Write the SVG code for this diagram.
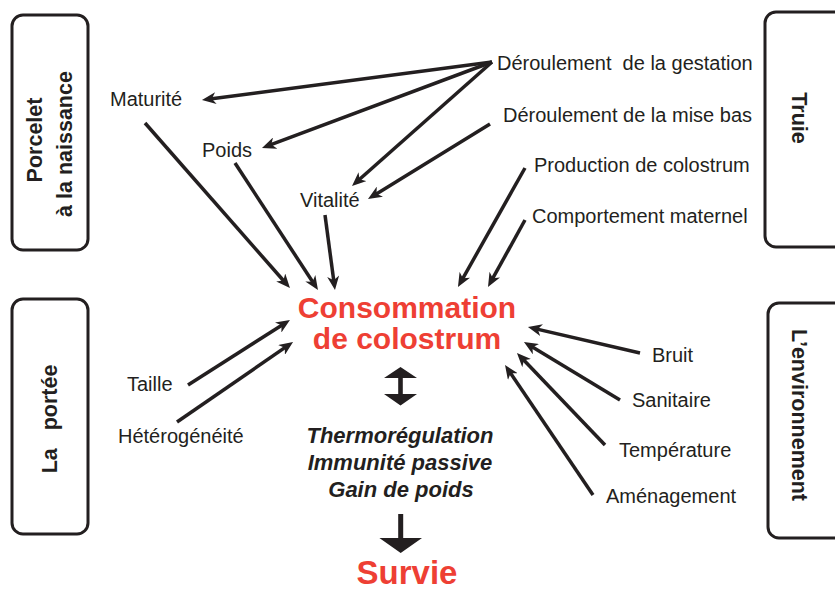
<svg xmlns="http://www.w3.org/2000/svg" width="835" height="592" viewBox="0 0 835 592">
<style>
.box{fill:none;stroke:#231f20;stroke-width:3}
.bt{font-family:"Liberation Sans",Arial,sans-serif;font-weight:bold;font-size:21.5px;fill:#231f20;text-anchor:middle;white-space:pre}
.lb{font-family:"Liberation Sans",Arial,sans-serif;font-size:20px;fill:#231f20;white-space:pre}
.red{font-family:"Liberation Sans",Arial,sans-serif;font-weight:bold;fill:#ee3f34;text-anchor:middle}
.it{font-family:"Liberation Sans",Arial,sans-serif;font-weight:bold;font-style:italic;font-size:22px;fill:#231f20;text-anchor:middle}
.c line{stroke:#231f20;stroke-width:3.5;marker-end:url(#ah)}
.blk{fill:#231f20}
</style>
<defs>
<marker id="ah" markerUnits="userSpaceOnUse" viewBox="0 0 14 12" refX="8" refY="6" markerWidth="14" markerHeight="12" orient="auto">
<path d="M0,0 L14,6 L0,12 L4,6 z" fill="#231f20"/>
</marker>
</defs>
<rect width="835" height="592" fill="#ffffff"/>

<g id="porcelet">
<rect class="box" x="12" y="15" width="76" height="235" rx="11"/>
<text class="bt" transform="translate(42,140) rotate(-90)">Porcelet</text>
<text class="bt" transform="translate(72,144) rotate(-90)">à la naissance</text>
</g>
<g id="portee">
<rect class="box" x="12" y="299" width="76" height="235" rx="11"/>
<text class="bt" transform="translate(57,419) rotate(-90)">La   portée</text>
</g>
<g id="truie">
<rect class="box" x="765" y="12" width="90" height="235" rx="11"/>
<text class="bt" transform="translate(792,118) rotate(90)">Truie</text>
</g>
<g id="environnement">
<rect class="box" x="768" y="303" width="90" height="235" rx="11"/>
<text class="bt" transform="translate(792,415) rotate(90)">L’environnement</text>
</g>

<g id="maturite"><text class="lb" x="110" y="106">Maturité</text></g>
<g id="poids"><text class="lb" x="202" y="157">Poids</text></g>
<g id="vitalite"><text class="lb" x="300" y="207">Vitalité</text></g>
<g id="gestation"><text class="lb" x="497" y="70">Déroulement  de la gestation</text></g>
<g id="misebas"><text class="lb" x="503" y="122">Déroulement de la mise bas</text></g>
<g id="production"><text class="lb" x="534" y="172">Production de colostrum</text></g>
<g id="comportement"><text class="lb" x="532" y="223">Comportement maternel</text></g>
<g id="taille"><text class="lb" x="127" y="391">Taille</text></g>
<g id="heterogeneite"><text class="lb" x="118" y="443">Hétérogénéité</text></g>
<g id="bruit"><text class="lb" x="652" y="362">Bruit</text></g>
<g id="sanitaire"><text class="lb" x="632" y="407">Sanitaire</text></g>
<g id="temperature"><text class="lb" x="619" y="457">Température</text></g>
<g id="amenagement"><text class="lb" x="606" y="503">Aménagement</text></g>

<g id="consommation">
<text class="red" font-size="30" x="407" y="318">Consommation</text>
<text class="red" font-size="30" x="407" y="349">de colostrum</text>
</g>
<g id="effets">
<text class="it" x="400" y="443">Thermorégulation</text>
<text class="it" x="400" y="470">Immunité passive</text>
<text class="it" x="401" y="497">Gain de poids</text>
</g>
<g id="survie">
<text class="red" font-size="33" x="407" y="584">Survie</text>
</g>

<g id="connectors" class="c">
<line x1="492" y1="62" x2="207.9" y2="99.2"/>
<line x1="492" y1="62" x2="267.6" y2="145.9"/>
<line x1="492" y1="62" x2="356.5" y2="182"/>
<line x1="490" y1="124" x2="373.1" y2="195.9"/>
<line x1="145" y1="123" x2="286" y2="283.5"/>
<line x1="235" y1="163" x2="314.7" y2="285"/>
<line x1="325" y1="215" x2="334.2" y2="284.1"/>
<line x1="525" y1="168" x2="460.9" y2="281.8"/>
<line x1="525" y1="220" x2="490.9" y2="281.7"/>
<line x1="188" y1="385" x2="284.9" y2="323.2"/>
<line x1="177" y1="422" x2="288.1" y2="345.4"/>
<line x1="640" y1="353" x2="533.8" y2="328.4"/>
<line x1="620" y1="400" x2="529.1" y2="345.1"/>
<line x1="605" y1="445" x2="521.1" y2="357.3"/>
<line x1="593" y1="495" x2="508.4" y2="370"/>
<path class="blk" d="M400.5,367 L417,378 L402.8,378 L402.8,394 L417,394 L400.5,405.5 L384,394 L398.2,394 L398.2,378 L384,378 z"/>
<path class="blk" d="M398.2,514 L403.2,514 L403.2,538 L422,538 L400.7,553 L379.4,538 L398.2,538 z"/>
</g>
</svg>
